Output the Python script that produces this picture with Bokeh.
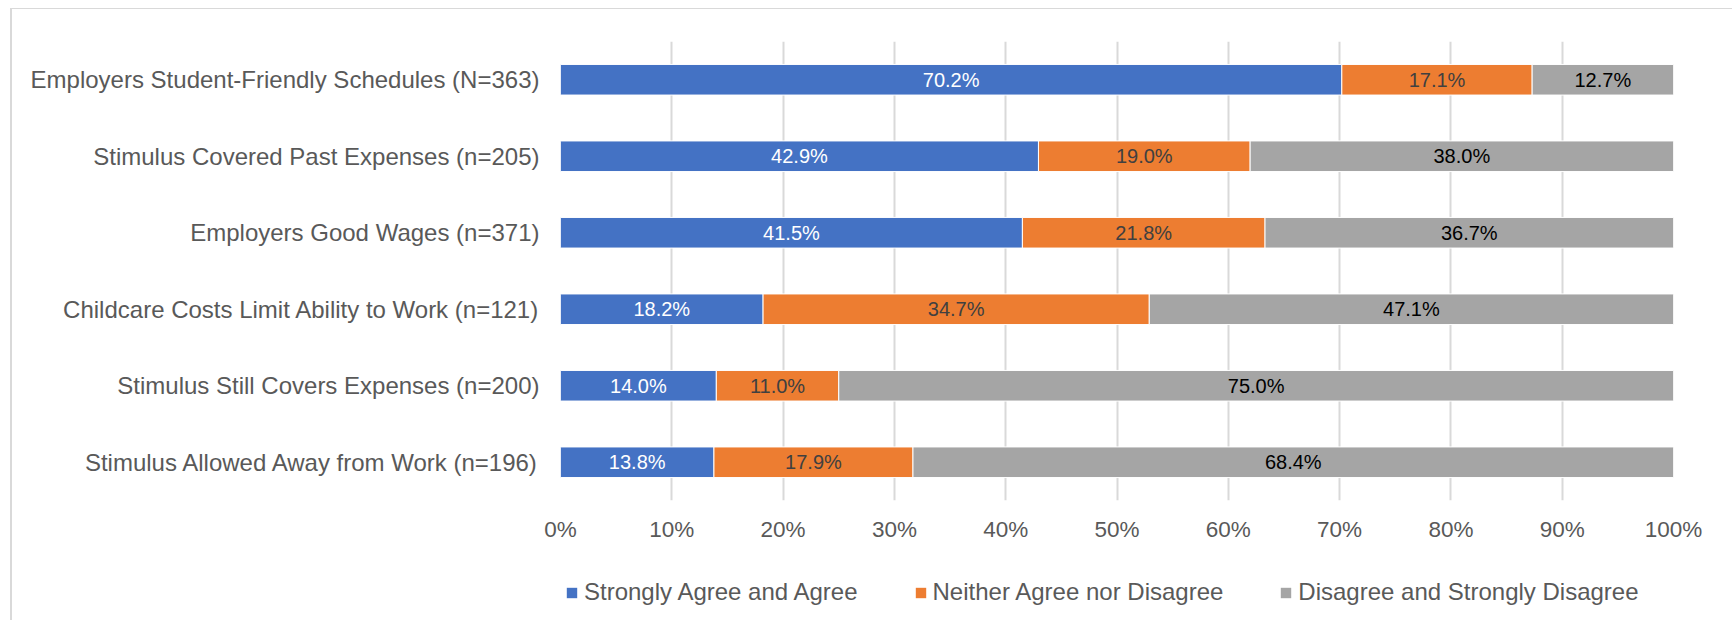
from bokeh.plotting import figure
from bokeh.layouts import column
from bokeh.models import ColumnDataSource, FactorRange, Range1d, NumeralTickFormatter, FixedTicker
from bokeh.core.properties import value
from bokeh.embed import file_html
from bokeh.resources import INLINE

categories = [
    "Employers Student-Friendly Schedules (N=363)",
    "Stimulus Covered Past Expenses (n=205)",
    "Employers Good Wages (n=371)",
    "Childcare Costs Limit Ability to Work (n=121)",
    "Stimulus Still Covers Expenses (n=200)",
    "Stimulus Allowed Away from Work (n=196)",
]
series_names = ["Strongly Agree and Agree", "Neither Agree nor Disagree", "Disagree and Strongly Disagree"]
agree = [70.2, 42.9, 41.5, 18.2, 14.0, 13.8]
neither = [17.1, 19.0, 21.8, 34.7, 11.0, 17.9]
disagree = [12.7, 38.0, 36.7, 47.1, 75.0, 68.4]
x_ticks = [0.0, 0.1, 0.2, 0.3, 0.4, 0.5, 0.6, 0.7, 0.8, 0.9, 1.0]

colors = ["#4472C4", "#ED7D31", "#A5A5A5"]
label_colors = ["#FFFFFF", "#404040", "#000000"]
FONT = "Liberation Sans"

# 100% stacking (as the original chart type does)
totals = [a + n + d for a, n, d in zip(agree, neither, disagree)]
fa = [a / t for a, t in zip(agree, totals)]
fn = [n / t for n, t in zip(neither, totals)]
fd = [d / t for d, t in zip(disagree, totals)]

src = ColumnDataSource(dict(
    cat=categories,
    a=fa, n=fn, d=fd,
    ac=[x / 2 for x in fa],
    nc=[x + y / 2 for x, y in zip(fa, fn)],
    dc=[x + y + z / 2 for x, y, z in zip(fa, fn, fd)],
    at=[f"{v:.1f}%" for v in agree],
    nt=[f"{v:.1f}%" for v in neither],
    dt=[f"{v:.1f}%" for v in disagree],
))

W = 1720
MB_L, MB_R = 548, 59

p = figure(
    y_range=FactorRange(factors=list(reversed(categories))),
    x_range=Range1d(0, 1),
    width=W, height=541,
    output_backend="svg", toolbar_location=None,
    min_border_left=MB_L, min_border_right=MB_R,
    min_border_top=32, min_border_bottom=50,
)

p.hbar_stack(["a", "n", "d"], y="cat", height=0.4, color=colors, source=src,
             line_color="white", line_width=1)

for col, txt, c in zip(["ac", "nc", "dc"], ["at", "nt", "dt"], label_colors):
    p.text(x=col, y="cat", text=txt, source=src, text_align="center", text_baseline="middle",
           text_font=value(FONT), text_font_size="20px", text_color=c)

p.xaxis.ticker = FixedTicker(ticks=x_ticks)
p.xaxis.formatter = NumeralTickFormatter(format="0%")
for ax in (p.xaxis, p.yaxis):
    ax.axis_line_color = None
    ax.major_tick_line_color = None
    ax.minor_tick_line_color = None
    ax.major_tick_out = 0
    ax.major_tick_in = 0
    ax.major_label_text_font = FONT
    ax.major_label_text_color = "#595959"
p.xaxis.major_label_text_font_size = "22.5px"
p.xaxis.major_label_standoff = 16
p.yaxis.major_label_text_font_size = "24px"
p.yaxis.major_label_standoff = 21

p.xgrid.ticker = FixedTicker(ticks=x_ticks)
p.xgrid.grid_line_color = "#d9d9d9"
p.xgrid.grid_line_width = 2
p.ygrid.grid_line_color = None
p.outline_line_color = None

# legend strip below the chart; its bar renderers are muted (invisible), only the legend shows
p2 = figure(
    x_range=Range1d(0, 1), y_range=FactorRange(factors=list(reversed(categories))),
    width=W, height=70,
    output_backend="svg", toolbar_location=None,
    x_axis_type=None, y_axis_type=None,
    min_border_left=MB_L, min_border_right=MB_R,
    min_border_top=0, min_border_bottom=0,
)
p2.grid.grid_line_color = None
p2.outline_line_color = None
rs = p2.hbar_stack(["a", "n", "d"], y="cat", height=0.4, color=colors, source=src,
                   line_color=None, legend_label=series_names)
for r in rs:
    r.muted_glyph.fill_alpha = 0
    r.muted_glyph.line_alpha = 0
    r.muted_glyph.hatch_alpha = 0
    r.muted = True

leg = p2.legend[0]
leg.location = (5, 14)
leg.orientation = "horizontal"
leg.padding = 0
leg.margin = 0
leg.spacing = 56
leg.border_line_color = None
leg.background_fill_alpha = 0
leg.glyph_width = 13
leg.glyph_height = 13
leg.label_standoff = 6
leg.label_text_font = FONT
leg.label_text_font_size = "24px"
leg.label_text_color = "#595959"

layout = column(p, p2, spacing=0,
                styles={"border-left": "2px solid #d9d9d9", "border-top": "1px solid #d9d9d9",
                        "margin-left": "10px", "margin-top": "8px"})

open("out.html", "w").write(file_html(layout, INLINE))
